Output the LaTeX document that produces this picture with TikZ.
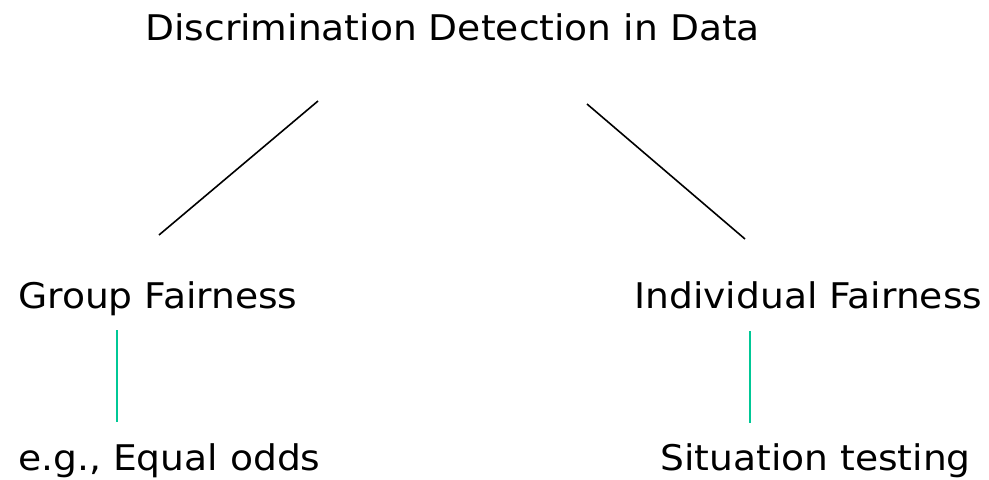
\documentclass[tikz,border=0pt]{standalone}
\usepackage{fontspec}
\setmainfont[FakeStretch=1.065]{DejaVu Sans}
\definecolor{teal1}{HTML}{00C896}
\begin{document}
\begin{tikzpicture}[x=0.75pt,y=-0.75pt,
  lbl/.style={inner sep=0pt,anchor=base west,font=\fontsize{26.5}{30}\selectfont},
  tree/.style={black,line width=1.2pt},
  sub/.style={teal1,line width=1.6pt}]
\useasboundingbox (0,0) rectangle (989,479);
\node[lbl] (root) at (145,40) {Discrimination Detection in Data};
\node[lbl] (grp) at (18,308) {Group Fairness};
\node[lbl] (ind) at (634,308) {Individual Fairness};
\node[lbl] (eo) at (18,470) {e.g., Equal odds};
\node[lbl] (st) at (660,470) {Situation testing};
\coordinate (l1) at (318,101); \coordinate (l2) at (159,235);
\coordinate (r1) at (587,104); \coordinate (r2) at (745,239);
\coordinate (g1) at (117,330); \coordinate (g2) at (117,422);
\coordinate (i1) at (750,331); \coordinate (i2) at (750,423);
\draw[tree] (l1) -- (l2);
\draw[tree] (r1) -- (r2);
\draw[sub] (g1) -- (g2);
\draw[sub] (i1) -- (i2);
\end{tikzpicture}
\end{document}
